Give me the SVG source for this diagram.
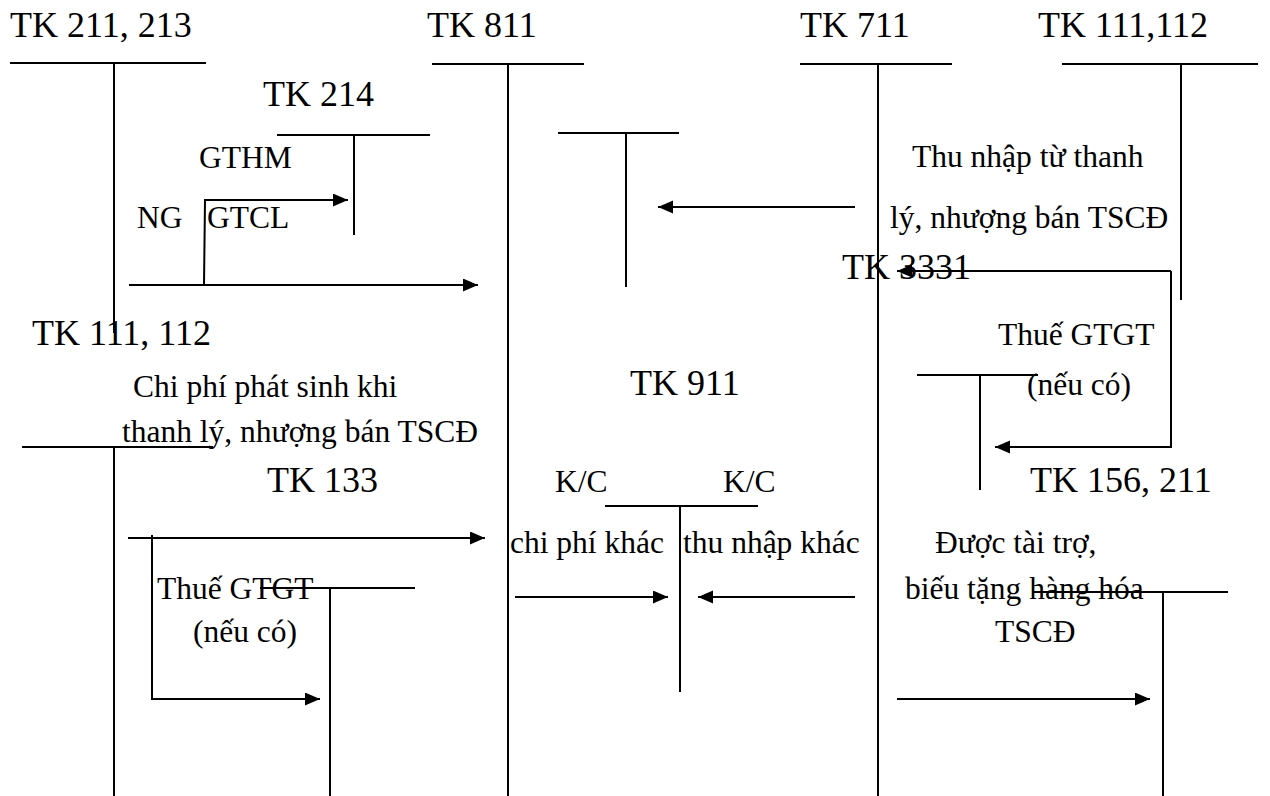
<svg xmlns="http://www.w3.org/2000/svg" width="1270" height="796" viewBox="0 0 1270 796">
<style>
.ln{stroke:#000;stroke-width:2;fill:none}
.ar{stroke:#000;stroke-width:2;fill:none;marker-end:url(#ah)}
.t{font-family:"Liberation Serif","Times New Roman",serif;font-size:36px;fill:#000}
.b{font-family:"Liberation Serif","Times New Roman",serif;font-size:31.5px;fill:#000}
</style>
<defs>
<marker id="ah" markerUnits="userSpaceOnUse" markerWidth="16" markerHeight="14" refX="15" refY="6.5" orient="auto">
<path d="M0,0 L15,6.5 L0,13 z" fill="#000"/>
</marker>
</defs>
<rect width="1270" height="796" fill="#fff"/>

<g id="tk211">
<text class="t" x="10" y="37">TK 211, 213</text>
<line class="ln" x1="10" y1="63" x2="206" y2="63"/>
<line class="ln" x1="114" y1="63" x2="114" y2="333"/>
</g>
<g id="tk811">
<text class="t" x="427" y="37">TK 811</text>
<line class="ln" x1="432" y1="64" x2="584" y2="64"/>
<line class="ln" x1="508" y1="64" x2="508" y2="796"/>
</g>
<g id="tk711">
<text class="t" x="800" y="37">TK 711</text>
<line class="ln" x1="800" y1="64" x2="952" y2="64"/>
<line class="ln" x1="878" y1="64" x2="878" y2="796"/>
</g>
<g id="tk111top">
<text class="t" x="1038" y="37">TK 111,112</text>
<line class="ln" x1="1062" y1="64" x2="1258" y2="64"/>
<line class="ln" x1="1181" y1="64" x2="1181" y2="300"/>
</g>
<g id="tk214">
<text class="t" x="263" y="106">TK 214</text>
<line class="ln" x1="277" y1="135" x2="430" y2="135"/>
<line class="ln" x1="354" y1="135" x2="354" y2="235"/>
</g>
<g id="tkmid">
<line class="ln" x1="558" y1="133" x2="679" y2="133"/>
<line class="ln" x1="626" y1="133" x2="626" y2="287"/>
</g>
<g id="tk3331">
<text class="t" x="842" y="279">TK 3331</text>
<line class="ln" x1="917" y1="375" x2="1038" y2="375"/>
<line class="ln" x1="980" y1="375" x2="980" y2="490"/>
</g>
<g id="tk111left">
<text class="t" x="32" y="345">TK 111, 112</text>
<line class="ln" x1="22" y1="447" x2="213" y2="447"/>
<line class="ln" x1="114" y1="447" x2="114" y2="796"/>
</g>
<g id="tk133">
<text class="t" x="267" y="492">TK 133</text>
<line class="ln" x1="260" y1="588" x2="415" y2="588"/>
<line class="ln" x1="330" y1="588" x2="330" y2="796"/>
</g>
<g id="tk911">
<text class="t" x="630" y="395">TK 911</text>
<line class="ln" x1="605" y1="506" x2="758" y2="506"/>
<line class="ln" x1="680" y1="506" x2="680" y2="692"/>
</g>
<g id="tk156">
<text class="t" x="1030" y="492">TK 156, 211</text>
<line class="ln" x1="1032" y1="592" x2="1228" y2="592"/>
<line class="ln" x1="1163" y1="592" x2="1163" y2="796"/>
</g>

<g id="labels">
<text class="b" x="199" y="168">GTHM</text>
<text class="b" x="137" y="228">NG</text>
<text class="b" x="207" y="228">GTCL</text>
<text class="b" x="912" y="167">Thu nhập từ thanh</text>
<text class="b" x="890" y="228">lý, nhượng bán TSCĐ</text>
<text class="b" x="998" y="345">Thuế GTGT</text>
<text class="b" x="1027" y="395">(nếu có)</text>
<text class="b" x="133" y="397">Chi phí phát sinh khi</text>
<text class="b" x="122" y="442">thanh lý, nhượng bán TSCĐ</text>
<text class="b" x="157" y="599">Thuế GTGT</text>
<text class="b" x="193" y="642">(nếu có)</text>
<text class="b" x="555" y="492">K/C</text>
<text class="b" x="723" y="492">K/C</text>
<text class="b" x="510" y="553">chi phí khác</text>
<text class="b" x="683" y="553">thu nhập khác</text>
<text class="b" x="935" y="553">Được tài trợ,</text>
<text class="b" x="905" y="599">biếu tặng hàng hóa</text>
<text class="b" x="995" y="642">TSCĐ</text>
</g>

<g id="connectors">
<polyline class="ar" points="204,285 205,200 348,200"/>
<line class="ar" x1="129" y1="285" x2="478" y2="285"/>
<line class="ar" x1="855" y1="207" x2="658" y2="207"/>
<line class="ar" x1="1171" y1="271" x2="897" y2="271"/>
<polyline class="ar" points="1171,271 1171,447 995,447"/>
<line class="ar" x1="128" y1="538" x2="485" y2="538"/>
<polyline class="ar" points="152,535 152,699 320,699"/>
<line class="ar" x1="515" y1="597" x2="668" y2="597"/>
<line class="ar" x1="855" y1="597" x2="698" y2="597"/>
<line class="ar" x1="897" y1="699" x2="1150" y2="699"/>
</g>
</svg>
